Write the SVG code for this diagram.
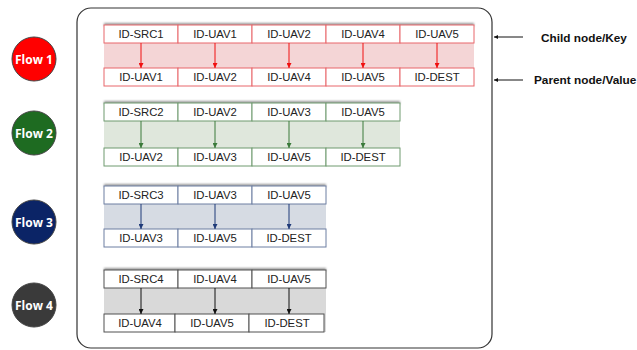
<svg xmlns="http://www.w3.org/2000/svg" width="637" height="350" viewBox="0 0 637 350">
<defs>
<style>
.ct{font-family:"Liberation Sans",Arial,sans-serif;font-size:11.3px;fill:#222;text-anchor:middle;dominant-baseline:central}
.ft{font-family:"Open Sans","Liberation Sans",sans-serif;font-size:12px;font-weight:bold;fill:#fff;text-anchor:middle;dominant-baseline:central}
.lt{font-family:"Liberation Sans",Arial,sans-serif;font-size:11.8px;font-weight:bold;fill:#111;dominant-baseline:central}
.c1{fill:#fff;stroke:#e8666a;stroke-width:1}
.c2{fill:#fff;stroke:#6f9a6f;stroke-width:1}
.c3{fill:#fff;stroke:#6c7ea2;stroke-width:1}
.c4{fill:#fff;stroke:#505050;stroke-width:1}
.a1{stroke:#f01010;stroke-width:1;marker-end:url(#m1)}
.a2{stroke:#3a7a3a;stroke-width:1;marker-end:url(#m2)}
.a3{stroke:#1f3a78;stroke-width:1;marker-end:url(#m3)}
.a4{stroke:#111;stroke-width:1;marker-end:url(#m4)}
.ak{stroke:#111;stroke-width:1;marker-end:url(#mk)}
</style>
<marker id="m1" viewBox="0 0 6 6" refX="6" refY="3" markerWidth="5" markerHeight="5" orient="auto" markerUnits="userSpaceOnUse"><path d="M0,0L6,3L0,6z" fill="#f01010"/></marker>
<marker id="m2" viewBox="0 0 6 6" refX="6" refY="3" markerWidth="5" markerHeight="5" orient="auto" markerUnits="userSpaceOnUse"><path d="M0,0L6,3L0,6z" fill="#3a7a3a"/></marker>
<marker id="m3" viewBox="0 0 6 6" refX="6" refY="3" markerWidth="5" markerHeight="5" orient="auto" markerUnits="userSpaceOnUse"><path d="M0,0L6,3L0,6z" fill="#1f3a78"/></marker>
<marker id="m4" viewBox="0 0 6 6" refX="6" refY="3" markerWidth="5" markerHeight="5" orient="auto" markerUnits="userSpaceOnUse"><path d="M0,0L6,3L0,6z" fill="#111"/></marker>
<marker id="mk" viewBox="0 0 6 6" refX="6" refY="3" markerWidth="5" markerHeight="4" orient="auto" markerUnits="userSpaceOnUse"><path d="M0,0L6,3L0,6z" fill="#111"/></marker>
<filter id="sh" x="-5%" y="-50%" width="110%" height="200%"><feGaussianBlur stdDeviation="1"/></filter>
</defs>
<rect width="637" height="350" fill="#fff"/>
<rect x="77" y="8" width="415" height="340" rx="14" fill="none" stroke="#333" stroke-width="1.2"/>

<!-- flow circles -->
<g id="flow1"><circle cx="34" cy="59" r="22" fill="#ff0000" stroke="#444" stroke-width="1"/><text class="ft" x="34" y="59">Flow 1</text></g>
<g id="flow2"><circle cx="34" cy="133" r="22" fill="#1e6b21" stroke="#444" stroke-width="1"/><text class="ft" x="34" y="133">Flow 2</text></g>
<g id="flow3"><circle cx="34" cy="222" r="22" fill="#0b2466" stroke="#444" stroke-width="1"/><text class="ft" x="34" y="222">Flow 3</text></g>
<g id="flow4"><circle cx="34" cy="305" r="22" fill="#3a3a3a" stroke="#444" stroke-width="1"/><text class="ft" x="34" y="305">Flow 4</text></g>

<!-- bands -->
<g id="bands">
<rect x="104" y="23" width="370" height="3" fill="#999" filter="url(#sh)"/>
<rect x="104" y="25" width="370" height="61" fill="#f4d5d6"/>
<rect x="104" y="101" width="296" height="3" fill="#999" filter="url(#sh)"/>
<rect x="104" y="103" width="296" height="63" fill="#dfe7dc"/>
<rect x="104" y="184" width="222" height="3" fill="#999" filter="url(#sh)"/>
<rect x="104" y="186" width="222" height="61" fill="#d6dbe3"/>
<rect x="104" y="268" width="222" height="3" fill="#999" filter="url(#sh)"/>
<rect x="104" y="270" width="222" height="62" fill="#d9d9d9"/>
</g>

<!-- Flow 1 table -->
<g id="f1-k1"><rect class="c1" x="104" y="25" width="74" height="18"/><text class="ct" x="141" y="34">ID-SRC1</text></g>
<g id="f1-k2"><rect class="c1" x="178" y="25" width="74" height="18"/><text class="ct" x="215" y="34">ID-UAV1</text></g>
<g id="f1-k3"><rect class="c1" x="252" y="25" width="74" height="18"/><text class="ct" x="289" y="34">ID-UAV2</text></g>
<g id="f1-k4"><rect class="c1" x="326" y="25" width="74" height="18"/><text class="ct" x="363" y="34">ID-UAV4</text></g>
<g id="f1-k5"><rect class="c1" x="400" y="25" width="74" height="18"/><text class="ct" x="437" y="34">ID-UAV5</text></g>
<g id="f1-v1"><rect class="c1" x="104" y="68" width="74" height="18"/><text class="ct" x="141" y="77">ID-UAV1</text></g>
<g id="f1-v2"><rect class="c1" x="178" y="68" width="74" height="18"/><text class="ct" x="215" y="77">ID-UAV2</text></g>
<g id="f1-v3"><rect class="c1" x="252" y="68" width="74" height="18"/><text class="ct" x="289" y="77">ID-UAV4</text></g>
<g id="f1-v4"><rect class="c1" x="326" y="68" width="74" height="18"/><text class="ct" x="363" y="77">ID-UAV5</text></g>
<g id="f1-v5"><rect class="c1" x="400" y="68" width="74" height="18"/><text class="ct" x="437" y="77">ID-DEST</text></g>

<!-- Flow 2 table -->
<g id="f2-k1"><rect class="c2" x="104" y="103" width="74" height="18"/><text class="ct" x="141" y="112">ID-SRC2</text></g>
<g id="f2-k2"><rect class="c2" x="178" y="103" width="74" height="18"/><text class="ct" x="215" y="112">ID-UAV2</text></g>
<g id="f2-k3"><rect class="c2" x="252" y="103" width="74" height="18"/><text class="ct" x="289" y="112">ID-UAV3</text></g>
<g id="f2-k4"><rect class="c2" x="326" y="103" width="74" height="18"/><text class="ct" x="363" y="112">ID-UAV5</text></g>
<g id="f2-v1"><rect class="c2" x="104" y="148" width="74" height="18"/><text class="ct" x="141" y="157">ID-UAV2</text></g>
<g id="f2-v2"><rect class="c2" x="178" y="148" width="74" height="18"/><text class="ct" x="215" y="157">ID-UAV3</text></g>
<g id="f2-v3"><rect class="c2" x="252" y="148" width="74" height="18"/><text class="ct" x="289" y="157">ID-UAV5</text></g>
<g id="f2-v4"><rect class="c2" x="326" y="148" width="74" height="18"/><text class="ct" x="363" y="157">ID-DEST</text></g>

<!-- Flow 3 table -->
<g id="f3-k1"><rect class="c3" x="104" y="186" width="74" height="18"/><text class="ct" x="141" y="195">ID-SRC3</text></g>
<g id="f3-k2"><rect class="c3" x="178" y="186" width="74" height="18"/><text class="ct" x="215" y="195">ID-UAV3</text></g>
<g id="f3-k3"><rect class="c3" x="252" y="186" width="74" height="18"/><text class="ct" x="289" y="195">ID-UAV5</text></g>
<g id="f3-v1"><rect class="c3" x="104" y="229" width="74" height="18"/><text class="ct" x="141" y="238">ID-UAV3</text></g>
<g id="f3-v2"><rect class="c3" x="178" y="229" width="74" height="18"/><text class="ct" x="215" y="238">ID-UAV5</text></g>
<g id="f3-v3"><rect class="c3" x="252" y="229" width="74" height="18"/><text class="ct" x="289" y="238">ID-DEST</text></g>

<!-- Flow 4 table -->
<g id="f4-k1"><rect class="c4" x="104" y="270" width="74" height="18"/><text class="ct" x="141" y="279">ID-SRC4</text></g>
<g id="f4-k2"><rect class="c4" x="178" y="270" width="74" height="18"/><text class="ct" x="215" y="279">ID-UAV4</text></g>
<g id="f4-k3"><rect class="c4" x="252" y="270" width="74" height="18"/><text class="ct" x="289" y="279">ID-UAV5</text></g>
<g id="f4-v1"><rect class="c4" x="104" y="314" width="71" height="18"/><text class="ct" x="140" y="323">ID-UAV4</text></g>
<g id="f4-v2"><rect class="c4" x="175" y="314" width="74" height="18"/><text class="ct" x="212" y="323">ID-UAV5</text></g>
<g id="f4-v3"><rect class="c4" x="249" y="314" width="75" height="18"/><text class="ct" x="287" y="323">ID-DEST</text></g>

<!-- labels -->
<g id="label-key"><text class="lt" x="541" y="38">Child node/Key</text></g>
<g id="label-value"><text class="lt" x="534" y="80">Parent node/Value</text></g>

<g id="connectors">
<line class="a1" x1="141" y1="43" x2="141" y2="68"/>
<line class="a1" x1="215" y1="43" x2="215" y2="68"/>
<line class="a1" x1="289" y1="43" x2="289" y2="68"/>
<line class="a1" x1="363" y1="43" x2="363" y2="68"/>
<line class="a1" x1="437" y1="43" x2="437" y2="68"/>
<line class="a2" x1="141" y1="121" x2="141" y2="148"/>
<line class="a2" x1="215" y1="121" x2="215" y2="148"/>
<line class="a2" x1="289" y1="121" x2="289" y2="148"/>
<line class="a2" x1="363" y1="121" x2="363" y2="148"/>
<line class="a3" x1="141" y1="204" x2="141" y2="229"/>
<line class="a3" x1="215" y1="204" x2="215" y2="229"/>
<line class="a3" x1="289" y1="204" x2="289" y2="229"/>
<line class="a4" x1="141" y1="288" x2="141" y2="314"/>
<line class="a4" x1="215" y1="288" x2="215" y2="314"/>
<line class="a4" x1="289" y1="288" x2="289" y2="314"/>
<line class="ak" x1="523" y1="37" x2="494" y2="37"/>
<line class="ak" x1="523" y1="80" x2="494" y2="80"/>
</g>
</svg>
